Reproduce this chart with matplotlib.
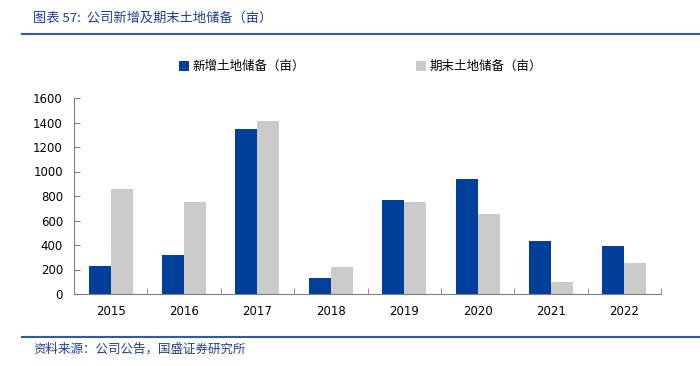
import numpy as np
import matplotlib.pyplot as plt
from matplotlib.lines import Line2D

plt.rcParams['font.family'] = ['Noto Sans CJK SC', 'DejaVu Sans']

years = ['2015', '2016', '2017', '2018', '2019', '2020', '2021', '2022']
new_land = [225, 320, 1350, 130, 770, 935, 430, 390]
end_land = [860, 750, 1410, 220, 750, 650, 100, 250]

blue = '#00409A'
grey = '#CBCBCB'

fig = plt.figure(figsize=(7.0, 3.66), dpi=100)
ax = fig.add_axes([74 / 700, 1 - 294 / 366, 587 / 700, 196 / 366])

x = np.arange(len(years))
w = 0.3
ax.bar(x - w / 2, new_land, w, color=blue, label='新增土地储备（亩）')
ax.bar(x + w / 2, end_land, w, color=grey, label='期末土地储备（亩）')

ax.set_xlim(-0.5, len(years) - 0.5)
ax.set_ylim(0, 1600)
ax.set_yticks(range(0, 1601, 200))
ax.set_xticks(x)
ax.set_xticklabels(years, family='DejaVu Sans', fontsize=8.5)
ax.set_xticks(np.arange(-0.5, len(years), 1), minor=True)
ax.tick_params(axis='x', which='major', length=0, pad=8)
ax.tick_params(axis='x', which='minor', direction='in', length=4, color='#808080')
ax.tick_params(axis='y', direction='in', length=4, color='#808080', labelsize=8.5, pad=8)
for lab in ax.get_yticklabels():
    lab.set_family('DejaVu Sans')
for s in ['top', 'right']:
    ax.spines[s].set_visible(False)
for s in ['left', 'bottom']:
    ax.spines[s].set_color('#808080')

ax.legend(loc='upper center', bbox_to_anchor=(0.488, 1.25), ncol=2, frameon=False,
          fontsize=9, handlelength=0.8, handleheight=0.8, handletextpad=0.3,
          columnspacing=8.9)

# title and source
fig.text(33 / 700, 1 - 18 / 366, '图表 57:  公司新增及期末土地储备（亩）', color='#1F3F8F',
         fontsize=9.5, style='italic', va='center', ha='left')
fig.add_artist(Line2D([22 / 700, 1], [1 - 34 / 366] * 2, color='#2F5AA8', lw=1.5))
fig.add_artist(Line2D([22 / 700, 1], [1 - 337 / 366] * 2, color='#2F5AA8', lw=1.5))
fig.text(33 / 700, 1 - 349 / 366, '资料来源：公司公告，国盛证券研究所', color='#1F3F8F',
         fontsize=9, style='italic', va='center', ha='left')

fig.savefig('out.png', dpi=100)
